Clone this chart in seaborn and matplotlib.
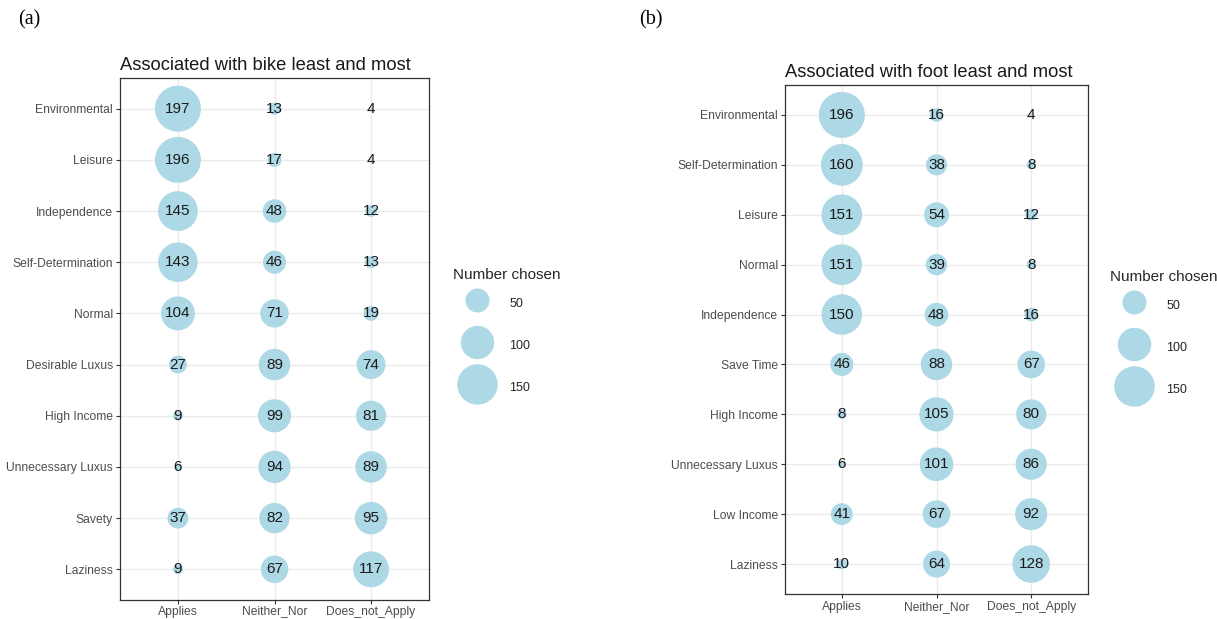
import numpy as np
import pandas as pd
import matplotlib
matplotlib.use("Agg")
import matplotlib.pyplot as plt
from matplotlib.lines import Line2D
import seaborn as sns

# ---- data -------------------------------------------------------------
answers = ["Applies", "Neither_Nor", "Does_not_Apply"]

bike_items = ["Environmental", "Leisure", "Independence", "Self-Determination",
              "Normal", "Desirable Luxus", "High Income", "Unnecessary Luxus",
              "Savety", "Laziness"]
bike_applies = [197, 196, 145, 143, 104, 27, 9, 6, 37, 9]
bike_neither = [13, 17, 48, 46, 71, 89, 99, 94, 82, 67]
bike_not = [4, 4, 12, 13, 19, 74, 81, 89, 95, 117]

foot_items = ["Environmental", "Self-Determination", "Leisure", "Normal",
              "Independence", "Save Time", "High Income", "Unnecessary Luxus",
              "Low Income", "Laziness"]
foot_applies = [196, 160, 151, 151, 150, 46, 8, 6, 41, 10]
foot_neither = [16, 38, 54, 39, 48, 88, 105, 101, 67, 64]
foot_not = [4, 8, 12, 8, 16, 67, 80, 86, 92, 128]

legend_breaks = [50, 100, 150]

# ---- styling ----------------------------------------------------------
sns.set_theme(style="white")
plt.rcParams["font.family"] = ["Liberation Sans", "DejaVu Sans"]

DPI = 100
W, H = 1217, 619
BUBBLE = "#ADD8E6"
PX2PT = 72.0 / DPI
D_MIN, D_SPAN = 3.0, 43.0   # bubble diameter (px): min + span*sqrt(rescaled)


def diameter_px(v, vmin, vmax):
    t = (np.asarray(v, dtype=float) - vmin) / (vmax - vmin)
    return D_MIN + D_SPAN * np.sqrt(np.clip(t, 0, 1))


def long_frame(items, a, n, d):
    df = pd.DataFrame({"item": items, answers[0]: a, answers[1]: n, answers[2]: d})
    return df.melt(id_vars="item", var_name="answer", value_name="count")


def panel(fig, rect_px, items, a, n, d, title, legend_px, xpad=2):
    x0, y0, x1, y1 = rect_px
    ax = fig.add_axes([x0 / W, 1 - y1 / H, (x1 - x0) / W, (y1 - y0) / H])
    df = long_frame(items, a, n, d)
    vmin, vmax = df["count"].min(), df["count"].max()
    df["area"] = (diameter_px(df["count"], vmin, vmax) * PX2PT) ** 2
    df["xi"] = df["answer"].map({k: i for i, k in enumerate(answers)})
    df["yi"] = df["item"].map({k: i for i, k in enumerate(items)})

    amin, amax = df["area"].min(), df["area"].max()
    sns.scatterplot(data=df, x="xi", y="yi", size="area",
                    sizes=(amin, amax), size_norm=(amin, amax),
                    color=BUBBLE, edgecolor="none", linewidth=0,
                    alpha=1.0, legend=False, ax=ax, zorder=3)
    for _, r in df.iterrows():
        ax.text(r["xi"], r["yi"], f"{int(r['count'])}", ha="center", va="center",
                fontsize=11, color="#1a1a1a", zorder=4)

    ax.set_xlim(-0.6, 2.6)
    ax.set_ylim(len(items) - 1 + 0.6, -0.6)
    ax.set_xticks(range(3))
    ax.set_xticklabels(answers)
    ax.set_yticks(range(len(items)))
    ax.set_yticklabels(items)
    ax.set_xlabel("")
    ax.set_ylabel("")
    ax.grid(True, color="#EBEBEB", linewidth=1.0, zorder=0)
    ax.set_axisbelow(True)
    for s in ax.spines.values():
        s.set_color("#333333")
        s.set_linewidth(0.9)
    ax.tick_params(axis="both", which="both", length=3, width=0.8,
                   color="#333333", labelcolor="#4D4D4D", labelsize=8.7, pad=2,
                   bottom=True, left=True)
    ax.tick_params(axis="x", pad=xpad)
    ax.set_title(title, loc="left", fontsize=13.2, color="#1a1a1a", pad=6)

    # size legend
    handles = []
    for b in legend_breaks:
        dpx = float(diameter_px(b, vmin, vmax))
        handles.append(Line2D([], [], linestyle="none", marker="o",
                              markersize=dpx * PX2PT, markerfacecolor=BUBBLE,
                              markeredgecolor="none", label=str(b)))
    lx, ly = legend_px
    leg = fig.legend(handles=handles, title="Number chosen", frameon=False,
                     loc="upper left", bbox_to_anchor=(lx / W, 1 - ly / H),
                     fontsize=9, title_fontsize=11, labelspacing=1.8,
                     handleheight=2.0, handlelength=3.9,
                     handletextpad=0.6, borderaxespad=0, borderpad=0)
    leg._legend_box.align = "left"
    leg._legend_box.sep = 8.3   # gap between the title and the keys (pt)
    return ax


fig = plt.figure(figsize=(W / DPI, H / DPI), dpi=DPI)
fig.patch.set_facecolor("white")

panel(fig, (120, 78, 429, 600), bike_items, bike_applies, bike_neither, bike_not,
      "Associated with bike least and most", (453, 268), xpad=1)
panel(fig, (785, 85, 1088, 594), foot_items, foot_applies, foot_neither, foot_not,
      "Associated with foot least and most", (1110, 270))

fig.text(18 / W, 1 - 20 / H, "(a)", fontsize=14.5, va="center", ha="left",
         family=["Liberation Serif", "DejaVu Serif"], color="black")
fig.text(639 / W, 1 - 20 / H, "(b)", fontsize=14.5, va="center", ha="left",
         family=["Liberation Serif", "DejaVu Serif"], color="black")

fig.savefig("out.png", dpi=DPI, facecolor="white")
